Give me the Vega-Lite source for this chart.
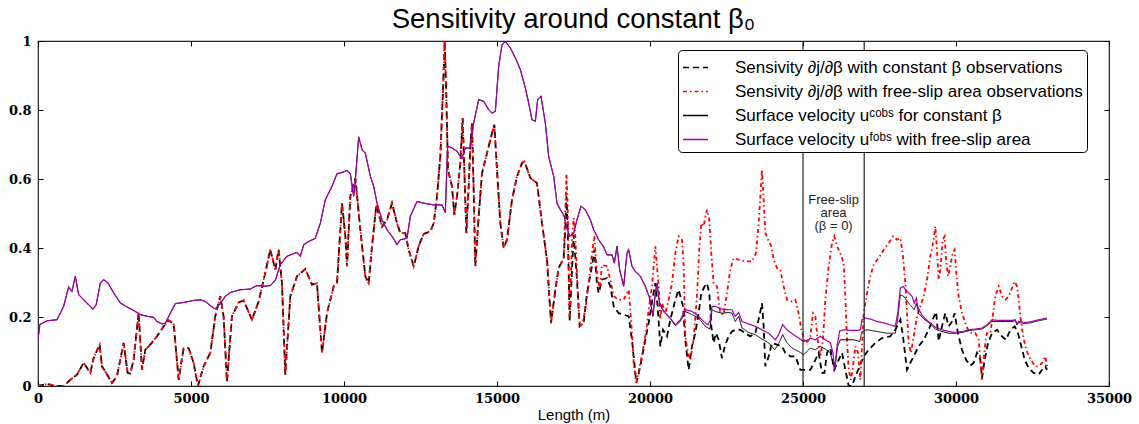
{
  "$schema": "https://vega.github.io/schema/vega-lite/v6.json",
  "width": 1071,
  "height": 345,
  "autosize": {"type": "none"},
  "padding": {"left": 38, "top": 41, "right": 30, "bottom": 38},
  "background": "white",
  "title": {
    "text": "Sensitivity around constant β₀",
    "font": "Liberation Sans",
    "fontSize": 27.5,
    "fontWeight": "normal",
    "color": "black",
    "anchor": "middle",
    "baseline": "alphabetic",
    "offset": -20
  },
  "config": {
    "view": {"stroke": "#222", "strokeWidth": 1.2},
    "axis": {"grid": false, "domain": false}
  },
  "data": {
    "values": [
      {"x":0,"A":0,"B":0},{"x":293,"A":0.006,"B":0.006},{"x":620,"A":0,"B":0},{"x":838,"A":0,"B":0},{"x":1055,"A":0.018,"B":0.018},{"x":1273,"A":0.033,"B":0.033},{"x":1491,"A":0.067,"B":0.067},{"x":1709,"A":0.038,"B":0.038},{"x":1818,"A":0.081,"B":0.081},{"x":2014,"A":0.12,"B":0.12},{"x":2090,"A":0.057,"B":0.057},{"x":2200,"A":0.042,"B":0.042},{"x":2417,"A":0.009,"B":0.009},{"x":2580,"A":0.028,"B":0.028},{"x":2798,"A":0.125,"B":0.125},{"x":2929,"A":0.038,"B":0.038},{"x":3016,"A":0.036,"B":0.036},{"x":3125,"A":0.076,"B":0.076},{"x":3289,"A":0.212,"B":0.212},{"x":3398,"A":0.047,"B":0.047},{"x":3506,"A":0.105,"B":0.105},{"x":3670,"A":0.12,"B":0.12},{"x":3888,"A":0.144,"B":0.144},{"x":4106,"A":0.173,"B":0.173},{"x":4269,"A":0.19,"B":0.19},{"x":4432,"A":0.182,"B":0.182},{"x":4596,"A":0.018,"B":0.018},{"x":4759,"A":0.11,"B":0.11},{"x":4922,"A":0.11,"B":0.11},{"x":5086,"A":0.067,"B":0.067},{"x":5227,"A":0,"B":0},{"x":5413,"A":0.057,"B":0.057},{"x":5631,"A":0.096,"B":0.096},{"x":5794,"A":0.202,"B":0.202},{"x":5957,"A":0.26,"B":0.26},{"x":6066,"A":0.202,"B":0.202},{"x":6175,"A":0.013,"B":0.013},{"x":6338,"A":0.202,"B":0.202},{"x":6556,"A":0.242,"B":0.242},{"x":6720,"A":0.248,"B":0.248},{"x":6992,"A":0.192,"B":0.192},{"x":7210,"A":0.245,"B":0.245},{"x":7428,"A":0.328,"B":0.328},{"x":7591,"A":0.395,"B":0.395},{"x":7755,"A":0.337,"B":0.337},{"x":7864,"A":0.395,"B":0.395},{"x":7973,"A":0.298,"B":0.298},{"x":8082,"A":0.033,"B":0.033},{"x":8245,"A":0.26,"B":0.26},{"x":8463,"A":0.318,"B":0.318},{"x":8736,"A":0.339,"B":0.339},{"x":8954,"A":0.294,"B":0.294},{"x":9117,"A":0.298,"B":0.298},{"x":9281,"A":0.096,"B":0.096},{"x":9445,"A":0.212,"B":0.212},{"x":9663,"A":0.289,"B":0.289},{"x":9771,"A":0.298,"B":0.298},{"x":9935,"A":0.53,"B":0.53},{"x":10044,"A":0.434,"B":0.434},{"x":10098,"A":0.347,"B":0.347},{"x":10207,"A":0.55,"B":0.55},{"x":10371,"A":0.603,"B":0.603},{"x":10534,"A":0.453,"B":0.453},{"x":10697,"A":0.318,"B":0.318},{"x":10806,"A":0.298,"B":0.298},{"x":10915,"A":0.405,"B":0.405},{"x":11057,"A":0.525,"B":0.525},{"x":11242,"A":0.462,"B":0.462},{"x":11405,"A":0.482,"B":0.482},{"x":11569,"A":0.53,"B":0.53},{"x":11732,"A":0.472,"B":0.472},{"x":11841,"A":0.443,"B":0.443},{"x":12004,"A":0.443,"B":0.443},{"x":12113,"A":0.395,"B":0.395},{"x":12277,"A":0.347,"B":0.347},{"x":12440,"A":0.405,"B":0.405},{"x":12604,"A":0.441,"B":0.441},{"x":12822,"A":0.448,"B":0.448},{"x":12931,"A":0.472,"B":0.472},{"x":13040,"A":0.55,"B":0.55},{"x":13148,"A":0.666,"B":0.666},{"x":13236,"A":0.859,"B":0.859},{"x":13290,"A":1,"B":1},{"x":13344,"A":0.839,"B":0.839},{"x":13398,"A":0.627,"B":0.627},{"x":13529,"A":0.579,"B":0.579},{"x":13605,"A":0.496,"B":0.496},{"x":13693,"A":0.55,"B":0.55},{"x":13802,"A":0.646,"B":0.646},{"x":13878,"A":0.777,"B":0.777},{"x":13932,"A":0.627,"B":0.627},{"x":13998,"A":0.443,"B":0.443},{"x":14074,"A":0.579,"B":0.579},{"x":14128,"A":0.695,"B":0.695},{"x":14183,"A":0.762,"B":0.762},{"x":14237,"A":0.569,"B":0.569},{"x":14292,"A":0.347,"B":0.347},{"x":14401,"A":0.492,"B":0.492},{"x":14510,"A":0.617,"B":0.617},{"x":14673,"A":0.675,"B":0.675},{"x":14837,"A":0.733,"B":0.733},{"x":14913,"A":0.757,"B":0.757},{"x":15000,"A":0.627,"B":0.627},{"x":15109,"A":0.472,"B":0.472},{"x":15218,"A":0.4,"B":0.4},{"x":15327,"A":0.424,"B":0.424},{"x":15491,"A":0.54,"B":0.54},{"x":15654,"A":0.608,"B":0.608},{"x":15817,"A":0.646,"B":0.646},{"x":15894,"A":0.651,"B":0.651},{"x":16090,"A":0.603,"B":0.603},{"x":16307,"A":0.588,"B":0.588},{"x":16471,"A":0.472,"B":0.472},{"x":16634,"A":0.366,"B":0.366},{"x":16765,"A":0.182,"B":0.182},{"x":16907,"A":0.279,"B":0.279},{"x":17015,"A":0.342,"B":0.342},{"x":17178,"A":0.37,"B":0.37},
      {"x":17230,"A":0.45,"B":0.5},{"x":17270,"A":0.55,"B":0.615},{"x":17310,"A":0.46,"B":0.52},{"x":17375,"A":0.19,"B":0.19},{"x":17451,"B":0.424},{"x":17505,"A":0.438,"B":0.487},{"x":17560,"B":0.434},
      {"x":17614,"A":0.308},{"x":17702,"A":0.173},{"x":17832,"A":0.183},{"x":17941,"A":0.269},{"x":18104,"A":0.347},{"x":18180,"A":0.395},{"x":18267,"A":0.298},{"x":18322,"A":0.269},{"x":18431,"A":0.308},{"x":18595,"A":0.313},{"x":18704,"A":0.289},{"x":18813,"A":0.231},{"x":18976,"A":0.211},{"x":19139,"A":0.207},{"x":19303,"A":0.202},{"x":19411,"A":0.134},{"x":19553,"A":0.009},{"x":19684,"A":0.057},{"x":19847,"A":0.134},{"x":19956,"A":0.183},{"x":20098,"A":0.26},{"x":20174,"A":0.298},{"x":20250,"A":0.231},{"x":20338,"A":0.115},{"x":20425,"A":0.163},{"x":20556,"A":0.144},{"x":20665,"A":0.192},{"x":20828,"A":0.25},{"x":20937,"A":0.279},{"x":21079,"A":0.231},{"x":21153,"A":0.134},{"x":21262,"A":0.047},{"x":21371,"A":0.115},{"x":21480,"A":0.153},{"x":21589,"A":0.211},{"x":21676,"A":0.269},{"x":21785,"A":0.289},{"x":21861,"A":0.298},{"x":21938,"A":0.269},{"x":22003,"A":0.173},{"x":22079,"A":0.125},{"x":22156,"A":0.153},{"x":22243,"A":0.134},{"x":22352,"A":0.081},{"x":22461,"A":0.12},{"x":22570,"A":0.144},{"x":22679,"A":0.158},{"x":22788,"A":0.163},{"x":22951,"A":0.163},{"x":23115,"A":0.153},{"x":23278,"A":0.144},{"x":23442,"A":0.153},{"x":23573,"A":0.202},{"x":23660,"A":0.24},{"x":23714,"A":0.173},{"x":23769,"A":0.057},{"x":23878,"A":0.086},{"x":23987,"A":0.125},{"x":24150,"A":0.12},{"x":24314,"A":0.115},{"x":24422,"A":0.096},{"x":24586,"A":0.086},{"x":24749,"A":0.086},{"x":24913,"A":0.047},{"x":25076,"A":0.047},{"x":25239,"A":0.047},{"x":25403,"A":0.076},{"x":25512,"A":0.096},{"x":25621,"A":0.038},{"x":25700,"A":0.038},{"x":25784,"A":0.096},{"x":25893,"A":0.11},{"x":26023,"A":0.047},{"x":26166,"A":0.076},{"x":26275,"A":0.096},{"x":26383,"A":0.047},{"x":26493,"A":0},{"x":26602,"A":0},{"x":26711,"A":0.028},{"x":26852,"A":0.057},{"x":26983,"A":0.086},{"x":27146,"A":0.105},{"x":27364,"A":0.125},{"x":27582,"A":0.139},{"x":27854,"A":0.144},{"x":28017,"A":0.163},{"x":28181,"A":0.192},{"x":28268,"A":0.144},{"x":28344,"A":0.086},{"x":28399,"A":0.047},{"x":28508,"A":0.067},{"x":28617,"A":0.086},{"x":28780,"A":0.115},{"x":28944,"A":0.134},{"x":29107,"A":0.163},{"x":29271,"A":0.2},{"x":29350,"A":0.215},{"x":29433,"A":0.13},{"x":29542,"A":0.173},{"x":29651,"A":0.211},{"x":29760,"A":0.173},{"x":29869,"A":0.187},{"x":29956,"A":0.211},{"x":30065,"A":0.153},{"x":30196,"A":0.105},{"x":30327,"A":0.076},{"x":30468,"A":0.059},{"x":30577,"A":0.067},{"x":30686,"A":0.096},{"x":30795,"A":0.076},{"x":30850,"A":0.023},{"x":30937,"A":0.076},{"x":31046,"A":0.125},{"x":31177,"A":0.153},{"x":31340,"A":0.163},{"x":31504,"A":0.144},{"x":31635,"A":0.134},{"x":31776,"A":0.163},{"x":31917,"A":0.173},{"x":32026,"A":0.153},{"x":32135,"A":0.115},{"x":32244,"A":0.076},{"x":32375,"A":0.052},{"x":32539,"A":0.038},{"x":32702,"A":0.033},{"x":32811,"A":0.047},{"x":32920,"A":0.057},{"x":32975,"A":0.047},
      {"x":17636,"B":0.279},{"x":17702,"B":0.173},{"x":17778,"B":0.178},{"x":17886,"B":0.221},{"x":17995,"B":0.298},{"x":18104,"B":0.385},{"x":18180,"B":0.434},{"x":18267,"B":0.327},{"x":18355,"B":0.279},{"x":18431,"B":0.351},{"x":18595,"B":0.347},{"x":18704,"B":0.308},{"x":18813,"B":0.26},{"x":18976,"B":0.25},{"x":19139,"B":0.25},{"x":19303,"B":0.279},{"x":19357,"B":0.221},{"x":19411,"B":0.154},{"x":19466,"B":0.067},{"x":19553,"B":0.009},{"x":19662,"B":0.057},{"x":19771,"B":0.105},{"x":19880,"B":0.163},{"x":19956,"B":0.221},{"x":20065,"B":0.289},{"x":20174,"B":0.405},{"x":20229,"B":0.347},{"x":20283,"B":0.289},{"x":20338,"B":0.192},{"x":20392,"B":0.24},{"x":20501,"B":0.211},{"x":20610,"B":0.25},{"x":20719,"B":0.298},{"x":20828,"B":0.385},{"x":20937,"B":0.434},{"x":21046,"B":0.424},{"x":21100,"B":0.35},{"x":21153,"B":0.144},{"x":21240,"B":0.096},{"x":21316,"B":0.076},{"x":21425,"B":0.134},{"x":21534,"B":0.26},{"x":21610,"B":0.395},{"x":21676,"B":0.472},{"x":21752,"B":0.463},{"x":21861,"B":0.511},{"x":21938,"B":0.482},{"x":22003,"B":0.385},{"x":22079,"B":0.298},{"x":22188,"B":0.289},{"x":22297,"B":0.211},{"x":22406,"B":0.207},{"x":22515,"B":0.269},{"x":22624,"B":0.337},{"x":22734,"B":0.371},{"x":22897,"B":0.366},{"x":23115,"B":0.361},{"x":23333,"B":0.361},{"x":23464,"B":0.385},{"x":23551,"B":0.472},{"x":23627,"B":0.579},{"x":23660,"B":0.627},{"x":23714,"B":0.54},{"x":23769,"B":0.443},{"x":23856,"B":0.424},{"x":23965,"B":0.405},{"x":24041,"B":0.366},{"x":24150,"B":0.342},{"x":24259,"B":0.337},{"x":24368,"B":0.289},{"x":24477,"B":0.25},{"x":24640,"B":0.245},{"x":24749,"B":0.25},{"x":24858,"B":0.211},{"x":24945,"B":0.163},{"x":25076,"B":0.125},{"x":25160,"B":0.13},{"x":25239,"B":0.144},{"x":25326,"B":0.211},{"x":25403,"B":0.202},{"x":25479,"B":0.134},{"x":25566,"B":0.086},{"x":25653,"B":0.134},{"x":25730,"B":0.25},{"x":25839,"B":0.347},{"x":25948,"B":0.414},{"x":26023,"B":0.434},{"x":26111,"B":0.405},{"x":26220,"B":0.385},{"x":26329,"B":0.356},{"x":26383,"B":0.26},{"x":26438,"B":0.134},{"x":26493,"B":0.047},{"x":26569,"B":0.018},{"x":26634,"B":0.057},{"x":26711,"B":0.115},{"x":26798,"B":0.096},{"x":26874,"B":0.018},{"x":26928,"B":0.115},{"x":26983,"B":0.211},{"x":27091,"B":0.269},{"x":27200,"B":0.318},{"x":27309,"B":0.351},{"x":27473,"B":0.371},{"x":27636,"B":0.395},{"x":27800,"B":0.414},{"x":27941,"B":0.434},{"x":28072,"B":0.424},{"x":28181,"B":0.429},{"x":28268,"B":0.376},{"x":28344,"B":0.298},{"x":28399,"B":0.211},{"x":28453,"B":0.125},{"x":28530,"B":0.096},{"x":28617,"B":0.144},{"x":28726,"B":0.202},{"x":28835,"B":0.231},{"x":28944,"B":0.26},{"x":29053,"B":0.308},{"x":29162,"B":0.376},{"x":29271,"B":0.424},{"x":29324,"B":0.463},{"x":29379,"B":0.395},{"x":29433,"B":0.308},{"x":29488,"B":0.337},{"x":29564,"B":0.424},{"x":29629,"B":0.434},{"x":29673,"B":0.366},{"x":29738,"B":0.318},{"x":29814,"B":0.347},{"x":29891,"B":0.385},{"x":29956,"B":0.395},{"x":30010,"B":0.327},{"x":30087,"B":0.26},{"x":30196,"B":0.211},{"x":30305,"B":0.183},{"x":30414,"B":0.158},{"x":30523,"B":0.153},{"x":30632,"B":0.153},{"x":30741,"B":0.134},{"x":30795,"B":0.076},{"x":30850,"B":0.018},{"x":30904,"B":0.076},{"x":30959,"B":0.125},{"x":31013,"B":0.153},{"x":31122,"B":0.153},{"x":31199,"B":0.202},{"x":31286,"B":0.26},{"x":31395,"B":0.289},{"x":31504,"B":0.26},{"x":31613,"B":0.25},{"x":31721,"B":0.26},{"x":31830,"B":0.284},{"x":31917,"B":0.303},{"x":31994,"B":0.289},{"x":32048,"B":0.25},{"x":32103,"B":0.202},{"x":32179,"B":0.153},{"x":32266,"B":0.115},{"x":32375,"B":0.086},{"x":32484,"B":0.071},{"x":32593,"B":0.057},{"x":32702,"B":0.057},{"x":32811,"B":0.067},{"x":32920,"B":0.086},{"x":32975,"B":0.057},
      {"x":0,"C":0.134,"D":0.134},{"x":60,"C":0.178,"D":0.178},{"x":293,"C":0.189,"D":0.189},{"x":620,"C":0.192,"D":0.192},{"x":838,"C":0.231,"D":0.231},{"x":1001,"C":0.287,"D":0.287},{"x":1110,"C":0.274,"D":0.274},{"x":1219,"C":0.318,"D":0.318},{"x":1328,"C":0.265,"D":0.265},{"x":1546,"C":0.245,"D":0.245},{"x":1796,"C":0.223,"D":0.223},{"x":1900,"C":0.235,"D":0.235},{"x":2036,"C":0.298,"D":0.298},{"x":2145,"C":0.308,"D":0.308},{"x":2276,"C":0.3,"D":0.3},{"x":2472,"C":0.27,"D":0.27},{"x":2690,"C":0.241,"D":0.241},{"x":2907,"C":0.229,"D":0.229},{"x":3125,"C":0.219,"D":0.219},{"x":3343,"C":0.207,"D":0.207},{"x":3561,"C":0.202,"D":0.202},{"x":3779,"C":0.199,"D":0.199},{"x":3888,"C":0.187,"D":0.187},{"x":4051,"C":0.18,"D":0.18},{"x":4160,"C":0.182,"D":0.182},{"x":4323,"C":0.211,"D":0.211},{"x":4487,"C":0.239,"D":0.239},{"x":4759,"C":0.242,"D":0.242},{"x":5086,"C":0.248,"D":0.248},{"x":5304,"C":0.25,"D":0.25},{"x":5467,"C":0.245,"D":0.245},{"x":5631,"C":0.233,"D":0.233},{"x":5794,"C":0.223,"D":0.223},{"x":5957,"C":0.239,"D":0.239},{"x":6121,"C":0.26,"D":0.26},{"x":6284,"C":0.271,"D":0.271},{"x":6611,"C":0.279,"D":0.279},{"x":6938,"C":0.281,"D":0.281},{"x":7155,"C":0.291,"D":0.291},{"x":7373,"C":0.289,"D":0.289},{"x":7591,"C":0.291,"D":0.291},{"x":7755,"C":0.306,"D":0.306},{"x":7918,"C":0.352,"D":0.352},{"x":8136,"C":0.376,"D":0.376},{"x":8354,"C":0.384,"D":0.384},{"x":8463,"C":0.387,"D":0.387},{"x":8572,"C":0.376,"D":0.376},{"x":8681,"C":0.409,"D":0.409},{"x":8845,"C":0.419,"D":0.419},{"x":9063,"C":0.428,"D":0.428},{"x":9227,"C":0.472,"D":0.472},{"x":9390,"C":0.54,"D":0.54},{"x":9608,"C":0.579,"D":0.579},{"x":9771,"C":0.615,"D":0.615},{"x":9935,"C":0.619,"D":0.619},{"x":10098,"C":0.625,"D":0.625},{"x":10207,"C":0.615,"D":0.615},{"x":10316,"C":0.55,"D":0.55},{"x":10371,"C":0.598,"D":0.598},{"x":10480,"C":0.722,"D":0.722},{"x":10589,"C":0.685,"D":0.685},{"x":10697,"C":0.675,"D":0.675},{"x":10861,"C":0.608,"D":0.608},{"x":10970,"C":0.579,"D":0.579},{"x":11079,"C":0.53,"D":0.53},{"x":11242,"C":0.482,"D":0.482},{"x":11405,"C":0.453,"D":0.453},{"x":11569,"C":0.434,"D":0.434},{"x":11732,"C":0.41,"D":0.41},{"x":11841,"C":0.424,"D":0.424},{"x":12059,"C":0.428,"D":0.428},{"x":12168,"C":0.492,"D":0.492},{"x":12386,"C":0.535,"D":0.535},{"x":12604,"C":0.53,"D":0.53},{"x":12931,"C":0.525,"D":0.525},{"x":13202,"C":0.525,"D":0.525},{"x":13311,"C":0.503,"D":0.503},{"x":13387,"C":0.695,"D":0.695},{"x":13529,"C":0.69,"D":0.69},{"x":13693,"C":0.68,"D":0.68},{"x":13856,"C":0.66,"D":0.66},{"x":13965,"C":0.69,"D":0.69},{"x":14128,"C":0.69,"D":0.69},{"x":14237,"C":0.762,"D":0.762},{"x":14401,"C":0.83,"D":0.83},{"x":14564,"C":0.825,"D":0.825},{"x":14728,"C":0.801,"D":0.801},{"x":14837,"C":0.791,"D":0.791},{"x":14946,"C":0.796,"D":0.796},{"x":15055,"C":0.927,"D":0.927},{"x":15164,"C":0.989,"D":0.989},{"x":15273,"C":0.999,"D":0.999},{"x":15436,"C":0.98,"D":0.98},{"x":15600,"C":0.951,"D":0.951},{"x":15763,"C":0.917,"D":0.917},{"x":15926,"C":0.864,"D":0.864},{"x":16035,"C":0.82,"D":0.82},{"x":16144,"C":0.772,"D":0.772},{"x":16253,"C":0.767,"D":0.767},{"x":16329,"C":0.83,"D":0.83},{"x":16438,"C":0.84,"D":0.84},{"x":16580,"C":0.762,"D":0.762},{"x":16689,"C":0.665,"D":0.665},{"x":16852,"C":0.608,"D":0.608},{"x":16961,"C":0.53,"D":0.53},{"x":17069,"C":0.511,"D":0.511},{"x":17178,"C":0.496,"D":0.496},{"x":17287,"C":0.458,"D":0.458},{"x":17375,"C":0.434,"D":0.434},{"x":17505,"C":0.443,"D":0.443},{"x":17614,"C":0.482,"D":0.482},{"x":17745,"C":0.521,"D":0.521},{"x":17886,"C":0.511,"D":0.511},{"x":18050,"C":0.482,"D":0.482},{"x":18159,"C":0.453,"D":0.453},{"x":18322,"C":0.424,"D":0.424},{"x":18486,"C":0.403,"D":0.403},{"x":18595,"C":0.38,"D":0.38},{"x":18758,"C":0.38,"D":0.38},{"x":18834,"C":0.356,"D":0.356},{"x":18922,"C":0.405,"D":0.405},{"x":19008,"C":0.337,"D":0.337},{"x":19139,"C":0.289,"D":0.289},{"x":19248,"C":0.385,"D":0.385},{"x":19303,"C":0.395,"D":0.395},{"x":19411,"C":0.347,"D":0.347},{"x":19520,"C":0.332,"D":0.332},{"x":19684,"C":0.318,"D":0.318},{"x":19847,"C":0.289,"D":0.289},{"x":19989,"C":0.255,"D":0.255},{"x":20098,"C":0.202,"D":0.202},{"x":20174,"C":0.269,"D":0.269},{"x":20229,"C":0.298,"D":0.298},{"x":20316,"C":0.24,"D":0.24},{"x":20447,"C":0.216,"D":0.216},
      {"x":20665,"D":0.197},{"x":20828,"D":0.177},{"x":20992,"D":0.192},{"x":21153,"D":0.221},{"x":21371,"D":0.216},{"x":21589,"D":0.202},{"x":21752,"D":0.187},{"x":21894,"D":0.177},{"x":21970,"D":0.192},{"x":22025,"D":0.231},{"x":22134,"D":0.231},{"x":22352,"D":0.223},{"x":22570,"D":0.221},{"x":22679,"D":0.221},{"x":22788,"D":0.202},{"x":22897,"D":0.213},{"x":23006,"D":0.187},{"x":23224,"D":0.18},{"x":23442,"D":0.173},{"x":23660,"D":0.163},{"x":23878,"D":0.153},{"x":24096,"D":0.134},{"x":24205,"D":0.149},{"x":24335,"D":0.178},{"x":24477,"D":0.163},{"x":24640,"D":0.152},{"x":24858,"D":0.139},{"x":25022,"D":0.129},{"x":25185,"D":0.134},{"x":25239,"D":0.139},{"x":25403,"D":0.134},{"x":25566,"D":0.144},{"x":25730,"D":0.134},{"x":25893,"D":0.125},{"x":25980,"D":0.096},{"x":26034,"D":0.047},{"x":26111,"D":0.115},{"x":26198,"D":0.159},{"x":26329,"D":0.163},{"x":26547,"D":0.161},{"x":26765,"D":0.161},{"x":26874,"D":0.163},{"x":26928,"D":0.192},{"x":27037,"D":0.197},{"x":27200,"D":0.194},{"x":27418,"D":0.187},{"x":27636,"D":0.183},{"x":27854,"D":0.177},{"x":28017,"D":0.173},{"x":28094,"D":0.211},{"x":28181,"D":0.284},{"x":28268,"D":0.289},{"x":28399,"D":0.274},{"x":28562,"D":0.26},{"x":28639,"D":0.24},{"x":28704,"D":0.255},{"x":28748,"D":0.23},{"x":28889,"D":0.205},{"x":29053,"D":0.19},{"x":29325,"D":0.17},{"x":29542,"D":0.163},{"x":29760,"D":0.158},{"x":29978,"D":0.155},{"x":30196,"D":0.158},{"x":30414,"D":0.163},{"x":30632,"D":0.165},{"x":30850,"D":0.168},{"x":31013,"D":0.177},{"x":31177,"D":0.192},{"x":31395,"D":0.19},{"x":31613,"D":0.19},{"x":31830,"D":0.19},{"x":31939,"D":0.192},{"x":31994,"D":0.18},{"x":32048,"D":0.187},{"x":32266,"D":0.184},{"x":32484,"D":0.187},{"x":32702,"D":0.192},{"x":32975,"D":0.197},
      {"x":20665,"C":0.195},{"x":20828,"C":0.175},{"x":20992,"C":0.187},{"x":21153,"C":0.216},{"x":21371,"C":0.207},{"x":21589,"C":0.197},{"x":21807,"C":0.173},{"x":21960,"C":0.165},{"x":22025,"C":0.221},{"x":22134,"C":0.216},{"x":22352,"C":0.211},{"x":22570,"C":0.213},{"x":22679,"C":0.211},{"x":22788,"C":0.187},{"x":22897,"C":0.202},{"x":23006,"C":0.168},{"x":23224,"C":0.155},{"x":23442,"C":0.149},{"x":23660,"C":0.136},{"x":23878,"C":0.125},{"x":24074,"C":0.105},{"x":24205,"C":0.123},{"x":24335,"C":0.149},{"x":24477,"C":0.125},{"x":24640,"C":0.11},{"x":24858,"C":0.1},{"x":25022,"C":0.091},{"x":25185,"C":0.105},{"x":25239,"C":0.11},{"x":25403,"C":0.105},{"x":25566,"C":0.115},{"x":25730,"C":0.107},{"x":25893,"C":0.096},{"x":26034,"C":0.047},{"x":26133,"C":0.115},{"x":26220,"C":0.134},{"x":26438,"C":0.134},{"x":26656,"C":0.134},{"x":26852,"C":0.129},{"x":26928,"C":0.158},{"x":27091,"C":0.163},{"x":27418,"C":0.158},{"x":27745,"C":0.153},{"x":28017,"C":0.153},{"x":28094,"C":0.192},{"x":28181,"C":0.264},{"x":28290,"C":0.26},{"x":28453,"C":0.24},{"x":28639,"C":0.221},{"x":28704,"C":0.24},{"x":28780,"C":0.21},{"x":28944,"C":0.195},{"x":29162,"C":0.18},{"x":29325,"C":0.165},{"x":29542,"C":0.158},{"x":29760,"C":0.153},{"x":29978,"C":0.153},{"x":30196,"C":0.155},{"x":30414,"C":0.16},{"x":30632,"C":0.163},{"x":30850,"C":0.165},{"x":31013,"C":0.175},{"x":31177,"C":0.187},{"x":31395,"C":0.187},{"x":31613,"C":0.187},{"x":31830,"C":0.187},{"x":31939,"C":0.189},{"x":31994,"C":0.177},{"x":32048,"C":0.184},{"x":32266,"C":0.181},{"x":32484,"C":0.184},{"x":32702,"C":0.189},{"x":32975,"C":0.194}
    ]
  },
  "transform": [
    {"fold": ["A", "B", "C", "D"], "as": ["s", "y"]},
    {"filter": "isValid(datum.y)"}
  ],
  "layer": [
    {
      "transform": [{"filter": "datum.s == 'A'"}],
      "mark": {"type": "line", "strokeWidth": 1.8, "clip": true},
      "encoding": {
        "x": {"field": "x", "type": "quantitative", "scale": {"domain": [0, 35000], "nice": false, "zero": false},
          "axis": {"orient": "bottom", "values": [0,5000,10000,15000,20000,25000,30000,35000], "format": "d", "tickSize": -5, "tickColor": "black", "labelPadding": 11, "labelFlush": false, "labelOverlap": false, "labelBound": false, "labelFont": "DejaVu Serif", "labelFontWeight": "bold", "labelFontSize": 13, "labelColor": "black", "title": "Length (m)", "titleFont": "Liberation Sans", "titleFontSize": 15, "titleFontWeight": "normal", "titleColor": "black", "titlePadding": 2}},
        "y": {"field": "y", "type": "quantitative", "scale": {"domain": [0, 1], "nice": false},
          "axis": {"orient": "left", "values": [0,0.2,0.4,0.6,0.8,1], "format": "~g", "tickSize": -5, "tickColor": "black", "labelPadding": 12, "labelFlush": false, "labelOverlap": false, "labelBound": false, "labelFont": "DejaVu Serif", "labelFontWeight": "bold", "labelFontSize": 13, "labelColor": "black", "title": null}},
        "color": {"field": "s", "type": "nominal",
          "scale": {"domain": ["A", "B", "C", "D"], "range": ["black", "#ff0000", "black", "#a000a8"]},
          "legend": {
            "orient": "none", "legendX": 640, "legendY": 9, "title": null,
            "symbolType": "stroke", "symbolSize": 625, "symbolStrokeWidth": 1.5,
            "labelFont": "Liberation Sans", "labelFontSize": 17, "labelColor": "black", "labelOffset": 26, "labelLimit": 600,
            "padding": 4, "rowPadding": 2, "fillColor": "white", "strokeColor": "black", "cornerRadius": 4,
            "labelExpr": "datum.label == 'A' ? 'Sensivity ∂j/∂β with constant β observations' : datum.label == 'B' ? 'Sensivity ∂j/∂β with free-slip area observations' : datum.label == 'C' ? 'Surface velocity uᶜᵒᵇˢ for constant β' : 'Surface velocity uᶠᵒᵇˢ with free-slip area'"
          }},
        "strokeDash": {"field": "s", "type": "nominal",
          "scale": {"domain": ["A", "B", "C", "D"], "range": [[6, 4], [4, 3, 1.5, 3], [1, 0], [1, 0]]}}
      }
    },
    {
      "transform": [{"filter": "datum.s == 'B'"}],
      "mark": {"type": "line", "strokeWidth": 1.8, "clip": true},
      "encoding": {
        "x": {"field": "x", "type": "quantitative", "axis": null},
        "y": {"field": "y", "type": "quantitative", "axis": null},
        "color": {"field": "s", "type": "nominal"},
        "strokeDash": {"field": "s", "type": "nominal"}
      }
    },
    {
      "transform": [{"filter": "datum.s == 'C'"}],
      "mark": {"type": "line", "strokeWidth": 1, "clip": true},
      "encoding": {
        "x": {"field": "x", "type": "quantitative", "axis": null},
        "y": {"field": "y", "type": "quantitative", "axis": null},
        "color": {"field": "s", "type": "nominal"},
        "strokeDash": {"field": "s", "type": "nominal"}
      }
    },
    {
      "transform": [{"filter": "datum.s == 'D'"}],
      "mark": {"type": "line", "strokeWidth": 1.2, "clip": true},
      "encoding": {
        "x": {"field": "x", "type": "quantitative",
          "axis": {"orient": "top", "values": [0,5000,10000,15000,20000,25000,30000,35000], "labels": false, "tickSize": -5, "tickColor": "black", "title": null}},
        "y": {"field": "y", "type": "quantitative",
          "axis": {"orient": "right", "values": [0,0.2,0.4,0.6,0.8,1], "labels": false, "tickSize": -5, "tickColor": "black", "title": null}},
        "color": {"field": "s", "type": "nominal"},
        "strokeDash": {"field": "s", "type": "nominal"}
      }
    },
    {
      "data": {"values": [{"x": 25000}, {"x": 27000}]},
      "mark": {"type": "rule", "color": "#222", "strokeWidth": 1.2},
      "encoding": {"x": {"field": "x", "type": "quantitative", "axis": null}}
    },
    {
      "data": {"values": [{"x": 26000, "y": 0.54, "t": "Free-slip\narea\n(β = 0)"}]},
      "mark": {"type": "text", "font": "Liberation Sans", "fontSize": 13, "lineHeight": 13, "lineBreak": "\n", "align": "center", "baseline": "middle", "color": "#222"},
      "encoding": {
        "x": {"field": "x", "type": "quantitative", "axis": null},
        "y": {"field": "y", "type": "quantitative", "axis": null},
        "text": {"field": "t"}
      }
    }
  ],
  "resolve": {"axis": {"x": "independent", "y": "independent"}}
}
